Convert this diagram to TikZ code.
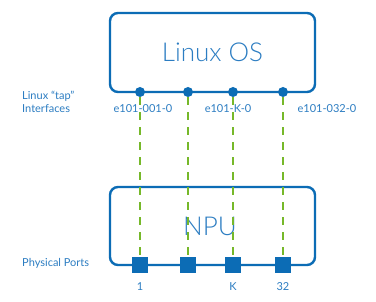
\documentclass[tikz,border=0pt]{standalone}
\usepackage{fontspec}
\setmainfont{Lato}
\newfontfamily\lightfont{Lato Light}
\definecolor{dblue}{HTML}{0C6CB5}
\definecolor{tblue}{HTML}{2C7DC2}
\definecolor{dgreen}{HTML}{76B82A}
\begin{document}
\begin{tikzpicture}[x=1pt,y=-1pt,
  boxst/.style={draw=dblue,line width=2.4pt,rounded corners=8pt},
  big/.style={text=tblue,font=\lightfont\fontsize{26}{30}\selectfont},
  lbl/.style={text=tblue,font=\fontsize{11}{13.5}\selectfont,inner sep=0pt},
  dotst/.style={circle,fill=dblue,minimum size=10pt,inner sep=0pt},
  portst/.style={rectangle,fill=dblue,minimum size=16pt,inner sep=0pt},
  link/.style={draw=dgreen,line width=2.2pt,dash pattern=on 8pt off 7pt}]
\useasboundingbox (0,0) rectangle (376,302);
\fill[white] (0,0) rectangle (376,302);
% boxes
\draw[boxst] (110,13) rectangle (315,92);
\node[big] (os) at (212.5,52) {Linux OS};
\draw[boxst] (110,187) rectangle (315,265);
\node[big] (npu) at (210,226) {NPU};
% dots and ports
\foreach \i/\x in {1/140,2/188,3/233,4/283}{
  \node[dotst] (d\i) at (\x,92) {};
  \node[portst] (p\i) at (\x,265) {};
}
\foreach \i in {1,2,3,4}{
  \draw[link] (d\i.south) -- (p\i.north);
}
% labels
\node[lbl,align=left,anchor=west] (tap) at (22,102) {Linux ``tap''\\Interfaces};
\node[lbl] (l1) at (143,109) {e101-001-0};
\node[lbl] (l3) at (228,109) {e101-K-0};
\node[lbl] (l4) at (327,109) {e101-032-0};
\node[lbl,anchor=west] (phys) at (22,263) {Physical Ports};
\node[lbl] (n1) at (140,287) {1};
\node[lbl] (n3) at (233,287) {K};
\node[lbl] (n4) at (283,287) {32};
\end{tikzpicture}
\end{document}
